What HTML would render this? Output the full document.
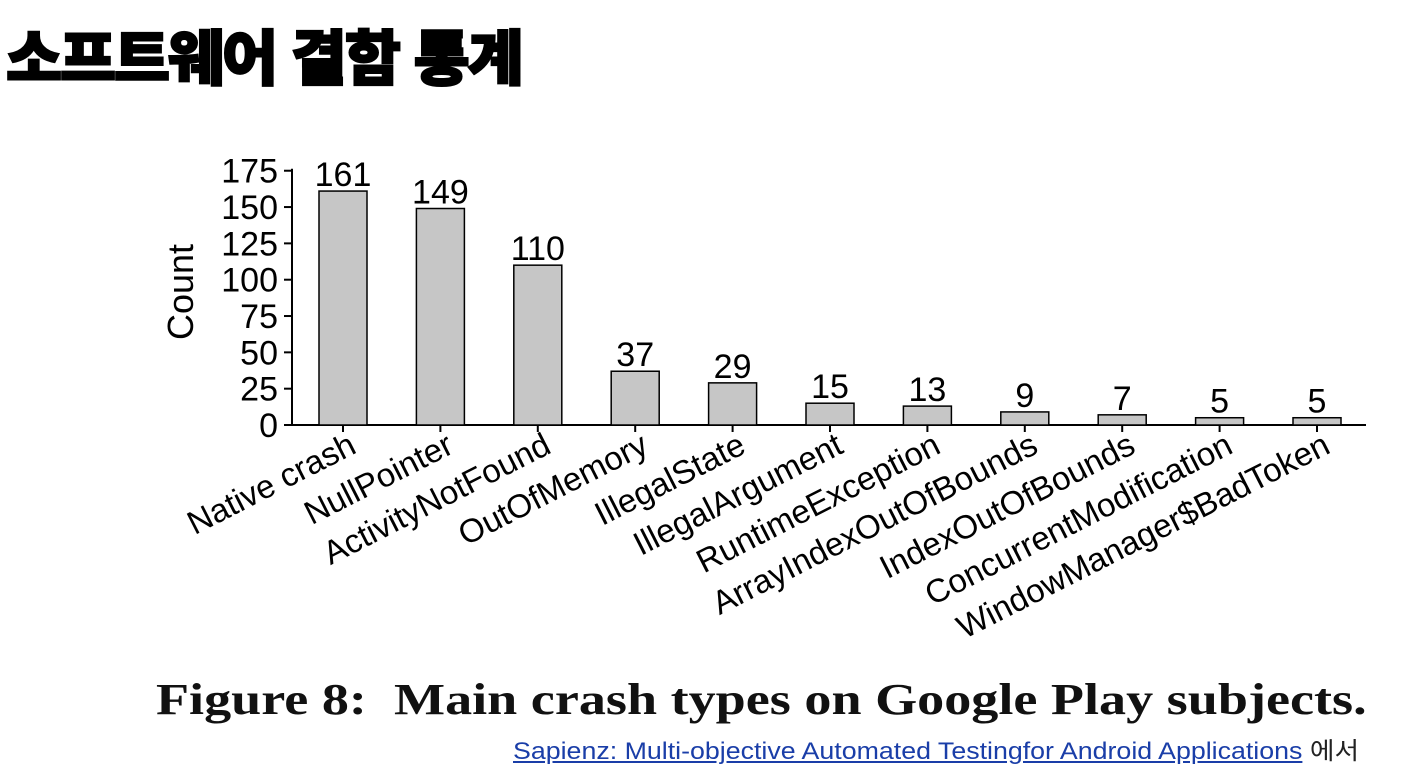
<!DOCTYPE html>
<html><head><meta charset="utf-8">
<style>
html,body{margin:0;padding:0;background:#fff;width:1402px;height:770px;overflow:hidden}
#title{position:absolute;left:6px;top:30px;font-family:"Liberation Sans","Noto Sans CJK KR",sans-serif;font-weight:900;font-size:60px;letter-spacing:-2px;color:#000;-webkit-text-stroke:2px #000;line-height:1;transform:scaleX(1.015);transform-origin:left top;white-space:nowrap}
#caption{position:absolute;left:156px;top:674px;font-family:"Liberation Serif",serif;font-weight:bold;font-size:44px;color:#111;white-space:nowrap;transform:scaleX(1.23);transform-origin:left top}
#source{position:absolute;left:513px;top:731px;font-family:"Liberation Sans","Noto Sans CJK KR",sans-serif;font-size:24px;color:#222;white-space:nowrap;transform:scaleX(1.115);transform-origin:left top}
#source a{color:#1a3ea8;text-decoration:underline}
svg{position:absolute;left:0;top:0}
</style></head><body>
<div id="title">소프트웨어 결함 통계</div>
<svg id="chart" width="1402" height="660"></svg>
<div id="caption">Figure 8:&nbsp; Main crash types on Google Play subjects.</div>
<div id="source"><a>Sapienz: Multi-objective Automated Testingfor Android Applications</a> 에서</div>
<script>
const categories=["Native crash","NullPointer","ActivityNotFound","OutOfMemory","IllegalState","IllegalArgument","RuntimeException","ArrayIndexOutOfBounds","IndexOutOfBounds","ConcurrentModification","WindowManager$BadToken"];
const counts=[161,149,110,37,29,15,13,9,7,5,5];
const yTicks=[0,25,50,75,100,125,150,175];
const NS="http://www.w3.org/2000/svg";
const svg=document.getElementById('chart');
const x0=292,x1=1366,y0=425,yMax=175,pxPer=1.453;
const y=v=>y0-v*pxPer;
const step=97.4,first=343,bw=48;
const xc=i=>first+i*step;
function mk(t,a){const e=document.createElementNS(NS,t);for(const k in a)e.setAttribute(k,a[k]);svg.appendChild(e);return e;}
const font='"Liberation Sans",sans-serif';
let e=mk('line',{x1:x0,y1:y(yMax)-2,x2:x0,y2:y0,stroke:'#000','stroke-width':2});


e=mk('line',{x1:x0,y1:y0,x2:x1,y2:y0,stroke:'#000','stroke-width':2});


yTicks.forEach(v=>{
  let t=mk('line',{x1:x0-8,y1:y(v),x2:x0,y2:y(v),stroke:'#000','stroke-width':2});
  
  
  let l=mk('text',{x:x0-14,y:y(v)+12,'text-anchor':'end','font-family':font,'font-size':34,fill:'#000'});
  l.textContent=v;
  
  
});
let yt=mk('text',{x:0,y:0,'text-anchor':'middle','font-family':font,'font-size':36,fill:'#000',transform:'translate(193,292) rotate(-90)'});
yt.textContent='Count';


categories.forEach((c,i)=>{
  const cx=xc(i),v=counts[i];
  let b=mk('rect',{x:cx-bw/2,y:y(v),width:bw,height:y0-y(v),fill:'#c6c6c6',stroke:'#000','stroke-width':1.5});
  
  
  let vl=mk('text',{x:cx,y:y(v)-5,'text-anchor':'middle','font-family':font,'font-size':34,fill:'#000'});
  vl.textContent=v;
  
  
  let tk=mk('line',{x1:cx,y1:y0,x2:cx,y2:y0+7,stroke:'#000','stroke-width':2});
  
  
  let xl=mk('text',{x:0,y:0,'text-anchor':'end','font-family':font,'font-size':33,fill:'#000',transform:`translate(${cx+15},${y0+27}) rotate(-27)`});
  xl.textContent=c;
  
  
});
</script>
</body></html>
